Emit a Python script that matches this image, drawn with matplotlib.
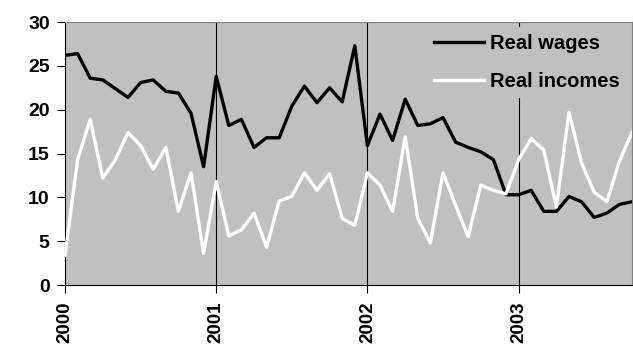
import numpy as np
import matplotlib.pyplot as plt

# monthly series, Jan 2000 .. Oct 2003
real_wages = [26.2, 26.4, 23.6, 23.4, 22.4, 21.4, 23.1, 23.4, 22.1, 21.9, 19.6, 13.5,
              23.8, 18.2, 18.9, 15.7, 16.8, 16.8, 20.4, 22.7, 20.8, 22.5, 20.9, 27.3,
              15.9, 19.5, 16.5, 21.2, 18.2, 18.4, 19.1, 16.3, 15.7, 15.2, 14.3, 10.3,
              10.3, 10.8, 8.4, 8.4, 10.1, 9.5, 7.7, 8.2, 9.2, 9.5]
real_incomes = [3.4, 14.3, 18.9, 12.2, 14.3, 17.4, 15.9, 13.2, 15.7, 8.4, 12.8, 3.6,
                11.8, 5.6, 6.3, 8.2, 4.3, 9.6, 10.1, 12.8, 10.8, 12.7, 7.6, 6.8,
                12.8, 11.4, 8.4, 16.9, 7.6, 4.8, 12.8, 9.1, 5.5, 11.4, 10.8, 10.4,
                14.3, 16.7, 15.4, 8.9, 19.7, 13.9, 10.6, 9.5, 14.1, 17.4]
year_labels = ["2000", "2001", "2002", "2003"]
y_ticks = [0, 5, 10, 15, 20, 25, 30]

plt.rcParams["font.family"] = ["Liberation Sans", "DejaVu Sans"]
plt.rcParams["font.weight"] = "bold"

fig = plt.figure(figsize=(6.33, 3.56), dpi=100)
ax = fig.add_axes([0.1027, 0.1994, 0.8957, 0.7386])
ax.set_facecolor("#c0c0c0")

months = np.arange(len(real_wages))
year_pos = [12 * i for i in range(len(year_labels))]

for xp in year_pos[1:]:
    ax.axvline(xp, color="black", lw=0.8, zorder=1)

ax.plot(months, real_wages, color="black", lw=2.4, label="Real wages", zorder=3)
ax.plot(months, real_incomes, color="white", lw=2.4, label="Real incomes", zorder=3)

ax.set_xlim(0, len(real_wages) - 1)
ax.set_ylim(0, 30)
ax.set_yticks(y_ticks)
ax.set_yticklabels([str(v) for v in y_ticks], fontsize=14, fontweight="bold")
ax.set_xticks(year_pos)
ax.set_xticklabels(year_labels, rotation=90, fontsize=13.5, fontweight="bold")
ax.tick_params(axis="both", direction="out", length=6, width=0.8, color="black")
ax.tick_params(axis="y", pad=5)
ax.tick_params(axis="x", pad=6)

for s in ["top", "right"]:
    ax.spines[s].set_color("#808080")
for s in ["left", "bottom"]:
    ax.spines[s].set_color("black")

leg = ax.legend(loc="upper right", bbox_to_anchor=(0.995, 0.99), frameon=True,
                facecolor="#c0c0c0", edgecolor="none", framealpha=1,
                fancybox=False, prop={"size": 14.5, "weight": "bold"},
                handlelength=2.5, handletextpad=0.3, labelspacing=0.95,
                borderaxespad=0.1, borderpad=0.35)
leg.set_zorder(2)

fig.savefig("out.png", dpi=100)
